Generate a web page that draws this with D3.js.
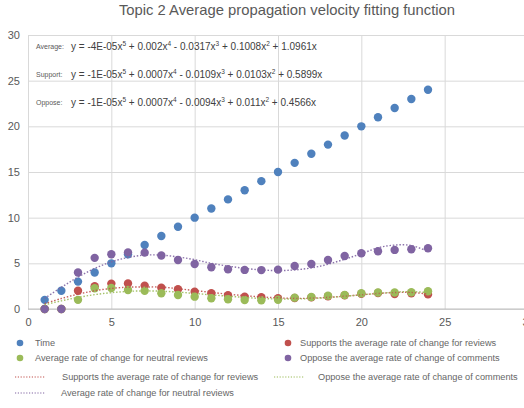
<!DOCTYPE html>
<html><head><meta charset="utf-8">
<script src="https://cdn.jsdelivr.net/npm/d3@7/dist/d3.min.js"></script>
<style>
body{margin:0;background:#fff;}
svg{display:block;font-family:"Liberation Sans",Arial,sans-serif;}
</style></head>
<body>
<svg id="c" width="524" height="408"></svg>
<script>
const title = "Topic 2 Average propagation velocity fitting function";
const xValues = d3.range(1, 25);
const timeValues = [1,2,3,4,5,6,7,8,9,10,11,12,13,14,15,16,17,18,19,20,21,22,23,24];
const supportValues = [0,0,2.0,2.5,2.78,2.8,2.56,2.34,2.16,1.9,1.72,1.5,1.35,1.28,1.17,1.2,1.27,1.4,1.5,1.66,1.75,1.64,1.72,1.6];
const neutralValues = [0,0,1.0,2.27,2.3,2.08,2.0,1.72,1.53,1.35,1.17,1.06,0.99,0.95,1.02,1.24,1.31,1.46,1.53,1.72,1.81,1.8,1.83,1.94];
const opposeValues = [0,0,4.0,5.6,6.0,6.2,6.17,5.85,5.37,4.93,4.57,4.35,4.28,4.26,4.31,4.71,4.93,5.37,5.81,6.1,6.33,6.47,6.54,6.65];
// trendline values
const supportFit = [0.58,1.15,1.62,2.0,2.25,2.39,2.41,2.4,2.22,2.02,1.82,1.62,1.46,1.32,1.22,1.16,1.18,1.27,1.4,1.55,1.7,1.8,1.82,1.62];
const neutralFit = [0.46,0.89,1.27,1.57,1.79,1.93,1.98,1.95,1.85,1.7,1.55,1.4,1.27,1.15,1.1,1.1,1.15,1.25,1.4,1.55,1.7,1.85,1.9,1.8];
const averageFit = [1.17,2.37,3.49,4.44,5.16,5.64,5.9,5.9,5.7,5.4,5.0,4.7,4.45,4.28,4.2,4.28,4.5,4.9,5.45,6.05,6.7,7.0,6.95,6.3];
const xTicks = [0,5,10,15,20,25,30];
const yTicks = [0,5,10,15,20,25,30];
const eqLabels = ["Average:", "Support:", "Oppose:"];
const eqTexts = [
  "y = -4E-05x^5 + 0.002x^4 - 0.0317x^3 + 0.1008x^2 + 1.0961x",
  "y = -1E-05x^5 + 0.0007x^4 - 0.0109x^3 + 0.0103x^2 + 0.5899x",
  "y = -1E-05x^5 + 0.0007x^4 - 0.0094x^3 + 0.011x^2 + 0.4566x"
];
const pointSeries = [
  {name:"Time", values: timeValues, color:"#4f81bd"},
  {name:"Supports the average rate of change for reviews", values: supportValues, color:"#c0504d"},
  {name:"Average rate of change for neutral reviews", values: neutralValues, color:"#9bbb59"},
  {name:"Oppose the average rate of change of comments", values: opposeValues, color:"#8064a2"}
];
const fitSeries = [
  {name:"Supports the average rate of change for reviews", values: supportFit, color:"#c0504d"},
  {name:"Oppose the average rate of change of comments", values: neutralFit, color:"#9bbb59"},
  {name:"Average rate of change for neutral reviews", values: averageFit, color:"#8064a2"}
];

const svg = d3.select("#c");
const x = d3.scaleLinear().domain([0,30]).range([28,528]);
const y = d3.scaleLinear().domain([0,30]).range([309,35]);

svg.append("text").attr("x",287).attr("y",15).attr("text-anchor","middle")
  .attr("font-size",14.8).attr("fill","#595959").text(title);

// gridlines
const gx = svg.append("g").attr("transform","translate(0,309)")
  .call(d3.axisBottom(x).tickValues(xTicks).tickSize(-274).tickPadding(9));
gx.select(".domain").remove();
gx.selectAll(".tick line").attr("stroke","#d9d9d9");
gx.selectAll(".tick text").attr("fill","#595959").attr("font-size",11).attr("font-family","Liberation Sans, Arial, sans-serif");

const gy = svg.append("g").attr("transform","translate(28,0)")
  .call(d3.axisLeft(y).tickValues(yTicks).tickSize(-500).tickPadding(8));
gy.select(".domain").remove();
gy.selectAll(".tick line").attr("stroke","#d9d9d9");
gy.selectAll(".tick text").attr("fill","#595959").attr("font-size",11).attr("font-family","Liberation Sans, Arial, sans-serif");

// baseline
svg.append("line").attr("x1",x(0)).attr("x2",524).attr("y1",y(0)).attr("y2",y(0)).attr("stroke","#bfbfbf");

// equations
const eqY = [49, 77, 105];
eqLabels.forEach((lab,i)=>{
  svg.append("text").attr("x",36).attr("y",eqY[i]).attr("font-size",7).attr("fill","#595959").text(lab);
  const t = svg.append("text").attr("x",71).attr("y",eqY[i]+0.5).attr("font-size",10).attr("fill","#404040");
  const parts = eqTexts[i].split(/\^(\d)/);
  let afterSup = false;
  parts.forEach((p,k)=>{
    if(k%2===0){
      const ts = t.append("tspan").text(p);
      if(afterSup) ts.attr("dy",4);
      afterSup = false;
    } else {
      t.append("tspan").attr("font-size",6.5).attr("dy",-4).text(p);
      afterSup = true;
    }
  });
});

// points
pointSeries.forEach(s=>{
  svg.append("g").selectAll("circle").data(s.values).join("circle")
    .attr("cx",(d,i)=>x(xValues[i])).attr("cy",d=>y(d)).attr("r",4.2).attr("fill",s.color);
});

// trendlines
const line = d3.line().x((d,i)=>x(xValues[i])).y(d=>y(d)).curve(d3.curveCatmullRom);
fitSeries.forEach(s=>{
  svg.append("path").datum(s.values).attr("d",line).attr("fill","none")
    .attr("stroke",s.color).attr("stroke-width",1.4).attr("stroke-dasharray","1.5,1.8").attr("opacity",0.9);
});

// legend
const lg = svg.append("g").attr("font-size",9.2).attr("fill","#666666");
const dotLegend = [
  {s:pointSeries[0], cx:20, tx:35, y:343},
  {s:pointSeries[1], cx:288, tx:300, y:343},
  {s:pointSeries[2], cx:20, tx:35, y:358},
  {s:pointSeries[3], cx:288, tx:300, y:358}
];
dotLegend.forEach(d=>{
  lg.append("circle").attr("cx",d.cx).attr("cy",d.y).attr("r",3.3).attr("fill",d.s.color);
  lg.append("text").attr("x",d.tx).attr("y",d.y+3.3).text(d.s.name);
});
const lineLegend = [
  {s:fitSeries[0], x1:15, x2:45, tx:62, y:377},
  {s:fitSeries[1], x1:274, x2:304, tx:318, y:377},
  {s:fitSeries[2], x1:15, x2:45, tx:61, y:393}
];
lineLegend.forEach(d=>{
  lg.append("line").attr("x1",d.x1).attr("x2",d.x2).attr("y1",d.y).attr("y2",d.y)
    .attr("stroke",d.s.color).attr("stroke-width",1.2).attr("stroke-dasharray","1.2,1.6");
  lg.append("text").attr("x",d.tx).attr("y",d.y+3.3).text(d.s.name);
});
</script>
</body></html>
